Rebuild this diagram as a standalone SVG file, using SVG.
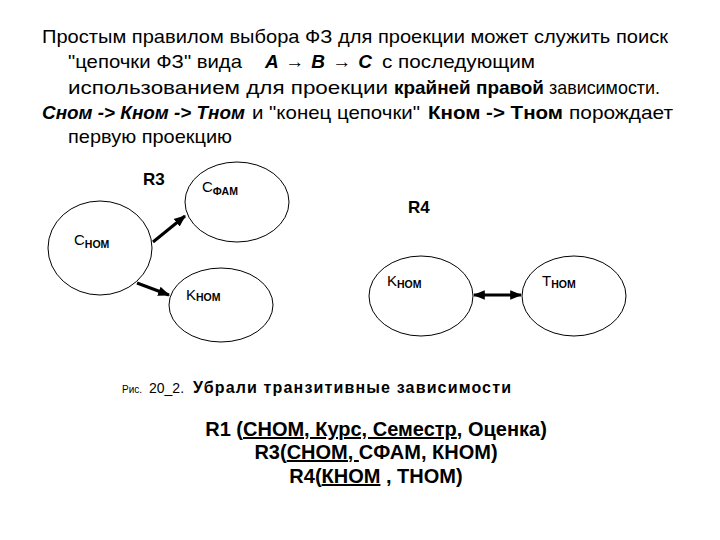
<svg xmlns="http://www.w3.org/2000/svg" width="720" height="540" viewBox="0 0 720 540">
<defs>
<style>
.t{font-family:"Liberation Sans",Arial,sans-serif;font-size:19px;fill:#000}
.b{font-weight:bold}
.bi{font-weight:bold;font-style:italic}
.node ellipse{fill:none;stroke:#000;stroke-width:1}
.lbl{font-family:"Liberation Sans",Arial,sans-serif;fill:#000;font-size:15px}
.sub{font-size:10.5px;font-weight:bold}
.rl{font-family:"Liberation Sans",Arial,sans-serif;font-weight:bold;font-size:17px}
.edge{stroke:#000;stroke-width:3;fill:none}
.bot{font-family:"Liberation Sans",Arial,sans-serif;font-weight:bold;font-size:20px;text-anchor:middle}
.u{text-decoration:underline}
</style>
<marker id="ah" viewBox="0 0 10 10" refX="9" refY="5" markerWidth="4" markerHeight="4" orient="auto-start-reverse" markerUnits="strokeWidth">
<path d="M0,1 L10,5 L0,9 z" fill="#000"/>
</marker>
</defs>
<rect width="720" height="540" fill="#fff"/>

<g id="paragraph">
<text class="t" x="42" y="43" textLength="626" lengthAdjust="spacingAndGlyphs">Простым правилом выбора ФЗ для проекции может служить поиск</text>
<text class="t" x="68" y="68" textLength="174" lengthAdjust="spacingAndGlyphs">"цепочки ФЗ" вида</text>
<text class="t bi" x="265" y="68" textLength="107" lengthAdjust="spacing">A → B → C</text>
<text class="t" x="382" y="68" textLength="153" lengthAdjust="spacingAndGlyphs">с последующим</text>
<text class="t" x="68" y="94" textLength="320" lengthAdjust="spacingAndGlyphs">использованием для проекции</text>
<text class="t b" x="394" y="94" textLength="150" lengthAdjust="spacingAndGlyphs">крайней правой</text>
<text class="t" x="549" y="94" textLength="111" lengthAdjust="spacingAndGlyphs">зависимости.</text>
<text class="t bi" x="42" y="119" textLength="203" lengthAdjust="spacingAndGlyphs">Сном -&gt; Кном -&gt; Тном</text>
<text class="t" x="252" y="119" textLength="168" lengthAdjust="spacingAndGlyphs">и "конец цепочки"</text>
<text class="t b" x="428" y="119" textLength="135" lengthAdjust="spacingAndGlyphs">Кном -&gt; Тном</text>
<text class="t" x="569" y="119" textLength="104" lengthAdjust="spacingAndGlyphs">порождает</text>
<text class="t" x="68" y="143" textLength="164" lengthAdjust="spacingAndGlyphs">первую проекцию</text>
</g>

<g id="R3-label"><text class="rl" x="143" y="185">R3</text></g>
<g id="R4-label"><text class="rl" x="408" y="213">R4</text></g>

<g id="cnom" class="node">
<ellipse cx="100" cy="248" rx="52" ry="47"/>
<text class="lbl" x="74" y="245">C<tspan class="sub" dy="3">НОМ</tspan></text>
</g>
<g id="cfam" class="node">
<ellipse cx="237" cy="202" rx="52" ry="40"/>
<text class="lbl" x="202" y="192">C<tspan class="sub" dy="3" font-weight="normal">ФАМ</tspan></text>
</g>
<g id="knom1" class="node">
<ellipse cx="221" cy="305" rx="52" ry="37"/>
<text class="lbl" x="186" y="300">K<tspan class="sub" dy="1">НОМ</tspan></text>
</g>
<g id="knom2" class="node">
<ellipse cx="421" cy="296" rx="52" ry="40"/>
<text class="lbl" x="387" y="286">K<tspan class="sub" dy="2">НОМ</tspan></text>
</g>
<g id="tnom" class="node">
<ellipse cx="574" cy="296" rx="52" ry="40"/>
<text class="lbl" x="542" y="286">T<tspan class="sub" dy="2">НОМ</tspan></text>
</g>

<g id="connectors">
<line class="edge" x1="153" y1="242" x2="185" y2="216" marker-end="url(#ah)"/>
<line class="edge" x1="137" y1="283" x2="169" y2="295" marker-end="url(#ah)"/>
<line class="edge" x1="474" y1="295" x2="521" y2="295" marker-start="url(#ah)" marker-end="url(#ah)"/>
</g>

<g id="caption">
<text font-family="Liberation Sans,Arial,sans-serif" font-size="10" x="122" y="393">Рис.</text>
<text font-family="Liberation Sans,Arial,sans-serif" font-size="14" x="149" y="393">20_2.</text>
<text font-family="Liberation Sans,Arial,sans-serif" font-size="16" font-weight="bold" x="193" y="393" textLength="318" lengthAdjust="spacing">Убрали транзитивные зависимости</text>
</g>

<g id="relations">
<text class="bot" x="376" y="436">R1 (<tspan class="u">СНОМ, Курс, Семестр</tspan>, Оценка)</text>
<text class="bot" x="376" y="459">R3(<tspan class="u">СНОМ, </tspan>СФАМ, КНОМ)</text>
<text class="bot" x="376" y="483">R4(<tspan class="u">КНОМ</tspan> , ТНОМ)</text>
</g>
</svg>
